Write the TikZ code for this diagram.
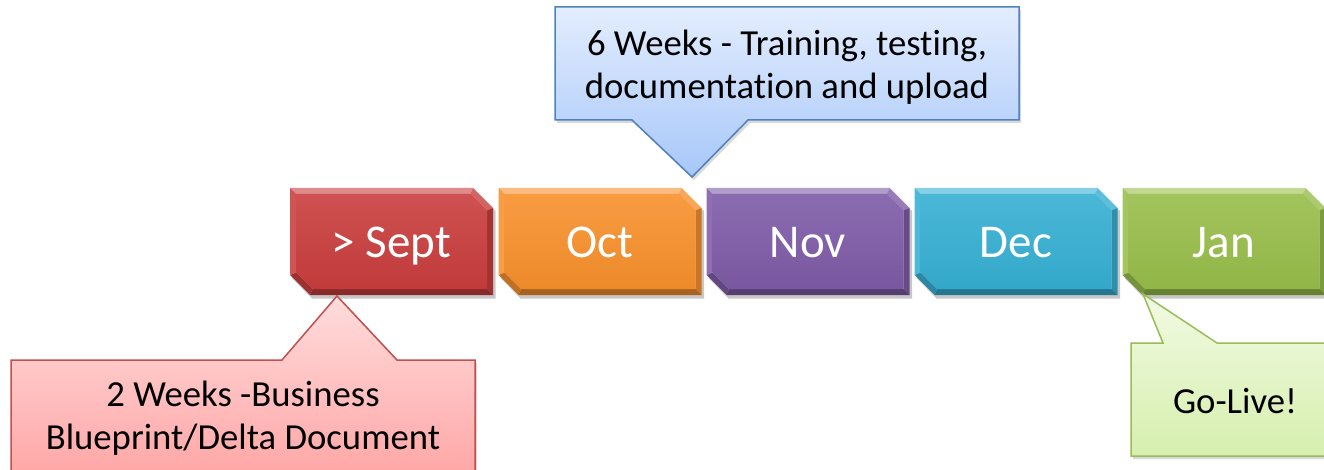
\documentclass[tikz,border=0pt]{standalone}
\usepackage{fontspec}
\setmainfont{Carlito}[Ligatures={NoCommon}]
\usetikzlibrary{shadows,calc,backgrounds}
\definecolor{cRed}{HTML}{C93D3D}
\definecolor{cOrange}{HTML}{F7902C}
\definecolor{cPurple}{HTML}{7E5BA7}
\definecolor{cAqua}{HTML}{36AFD2}
\definecolor{cGreen}{HTML}{98BD4A}
\definecolor{bRed}{HTML}{C0504D}
\definecolor{bBlue}{HTML}{4F81BD}
\definecolor{bGreen}{HTML}{9BBB59}
\definecolor{fRedT}{HTML}{FFDCDC}
\definecolor{fRedB}{HTML}{FF9F9F}
\definecolor{fBlueT}{HTML}{E3EDFE}
\definecolor{fBlueB}{HTML}{A7C7F9}
\definecolor{fGreenT}{HTML}{F1FAE2}
\definecolor{fGreenB}{HTML}{D6EFAE}
\newcommand{\monthfont}{\fontsize{47}{56}\selectfont}
\newcommand{\calloutfont}{\fontsize{36.7}{43}\selectfont}
% bevelled month box drawn round a named node
\newcommand{\bevelbox}[2]{%
\begin{scope}[on background layer, shift={(#1.center)}]
 \fill[black,opacity=0.22] (-99.5,-50.5) -- (83.5,-50.5) -- (104,-30.5) -- (104,57) -- (-79.5,57) -- (-99.5,36.5) -- cycle;
 \fill[#2!60!white] (-101.5,-53.5) -- (81.5,-53.5) -- (79,-47.5) -- (-95.5,-47.5) -- cycle;
 \fill[#2!80!white] (81.5,-53.5) -- (101.5,-33.5) -- (95.5,-31) -- (79,-47.5) -- cycle;
 \fill[#2!82!black] (101.5,-33.5) -- (101.5,53.5) -- (95.5,47.5) -- (95.5,-31) -- cycle;
 \fill[#2!68!black] (101.5,53.5) -- (-81.5,53.5) -- (-79,47.5) -- (95.5,47.5) -- cycle;
 \fill[#2!78!black] (-81.5,53.5) -- (-101.5,33.5) -- (-95.5,31) -- (-79,47.5) -- cycle;
 \fill[#2!88!white] (-101.5,33.5) -- (-101.5,-53.5) -- (-95.5,-47.5) -- (-95.5,31) -- cycle;
 \shade[top color=#2!90!white, bottom color=#2!96!black]
   (-95.5,-47.5) -- (79,-47.5) -- (95.5,-31) -- (95.5,47.5) -- (-79,47.5) -- (-95.5,31) -- cycle;
\end{scope}}
\begin{document}
\begin{tikzpicture}[x=1pt,y=-1pt,
  month/.style={rectangle, minimum width=203pt, minimum height=107pt,
    inner sep=0pt, outer sep=0pt, text=white, font=\monthfont},
  monthlabel/.style={inner sep=0pt, text height=32pt, text depth=0pt,
    text=white, font=\monthfont},
  callout/.style={line width=1.5pt, line join=miter,
    drop shadow={opacity=0.3,shadow xshift=2pt,shadow yshift=-3pt}},
  callouttext/.style={align=center, font=\calloutfont, text=black, inner sep=0pt}
]
\useasboundingbox (0,0) rectangle (1324,470);
\clip (0,0) rectangle (1324,470);

% month boxes
\node[month] (sept) at (391.5,241.5) {};
\node[month] (oct) at (600,241.5) {};
\node[month] (nov) at (808,241.5) {};
\node[month] (dec) at (1016,241.5) {};
\node[month] (jan) at (1224,241.5) {};
\node[monthlabel] (septlabel) at (sept.center) {> Sept};
\node[monthlabel] (octlabel) at (oct.center) {Oct};
\node[monthlabel] (novlabel) at (nov.center) {Nov};
\node[monthlabel] (declabel) at (dec.center) {Dec};
\node[monthlabel] (janlabel) at (jan.center) {Jan};
\bevelbox{sept}{cRed}
\bevelbox{oct}{cOrange}
\bevelbox{nov}{cPurple}
\bevelbox{dec}{cAqua}
\bevelbox{jan}{cGreen}

% pointer tips
\coordinate (redtip) at ($(sept.south)+(-54.5,1)$);
\coordinate (bluetip) at ($(oct.north)+(92,-11)$);
\coordinate (greentip) at ($(jan.south)+(-81,-1)$);

% red callout
\path[callout, draw=bRed, top color=fRedT, bottom color=fRedB]
  (11,360) -- (282,360) -- (redtip) -- (397,360) -- (475,360)
  -- (475,500) -- (11,500) -- cycle;
\node[callouttext] (redtext) at (243,418) {2 Weeks -Business\\Blueprint/Delta Document};

% blue callout
\path[callout, draw=bBlue, top color=fBlueT, bottom color=fBlueB]
  (555,7) -- (1019,7) -- (1019,120) -- (748,120) -- (bluetip)
  -- (632,120) -- (555,120) -- cycle;
\node[callouttext] (bluetext) at (787,67) {6 Weeks - Training, testing,\\documentation and upload};

% green callout
\path[callout, draw=bGreen, top color=fGreenT, bottom color=fGreenB]
  (1131,343) -- (1163,343) -- (greentip) -- (1217,343) -- (1345,343)
  -- (1345,456) -- (1131,456) -- cycle;
\node[callouttext] (greentext) at (1235,401) {Go-Live!};
\end{tikzpicture}
\end{document}
